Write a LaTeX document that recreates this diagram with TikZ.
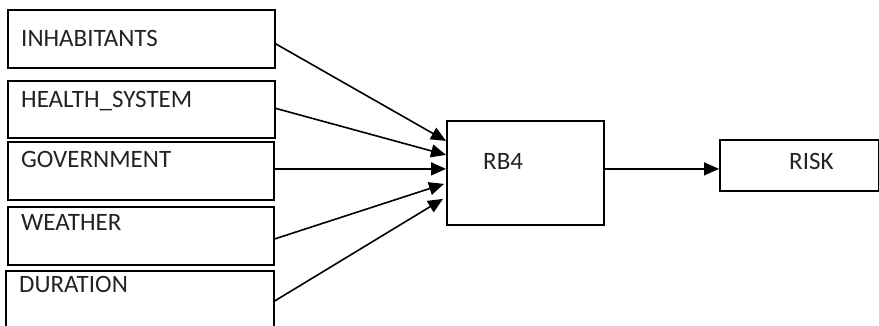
\documentclass[tikz,border=0pt]{standalone}
\usepackage{fontspec}
\setmainfont{Carlito}
\usetikzlibrary{arrows.meta}
\definecolor{txt}{RGB}{35,35,35}
\begin{document}
\begin{tikzpicture}[x=1pt,y=-1pt,
  box/.style={draw=black,line width=1.8pt,rectangle,inner sep=0pt,anchor=north west},
  lbl/.style={anchor=base west,inner sep=0pt,text=txt,font=\fontsize{25}{29}\selectfont},
  arr/.style={line width=1.6pt,-{Triangle[length=15pt,width=13pt]}}]
\useasboundingbox (0,0) rectangle (879,326);
\begin{scope}
\clip (0,0) rectangle (879,326);
\node[box,minimum width=267pt,minimum height=58pt] (inh) at (7,9) {};
\node[box,minimum width=267pt,minimum height=57pt] (hs) at (7,80) {};
\node[box,minimum width=266pt,minimum height=58pt] (gov) at (7,141) {};
\node[box,minimum width=266pt,minimum height=58pt] (wea) at (7,206) {};
\node[box,minimum width=268pt,minimum height=60pt] (dur) at (5,270) {};
\node[box,minimum width=157pt,minimum height=104pt] (rb4) at (446,120) {};
\node[box,minimum width=159pt,minimum height=51pt] (risk) at (719,139) {};
\end{scope}
\node[lbl] (tinh) at (21,47) {INHABITANTS};
\node[lbl] (ths) at (21,108) {HEALTH\_SYSTEM};
\node[lbl] (tgov) at (21,168) {GOVERNMENT};
\node[lbl] (twea) at (21,231) {WEATHER};
\node[lbl] (tdur) at (19,292) {DURATION};
\node[lbl] (trb4) at (483,170) {RB4};
\node[lbl] (trisk) at (789,170) {RISK};
\draw[arr] ([yshift=-5pt]inh.east) -- ([yshift=32pt]rb4.west);
\draw[arr] ([yshift=1pt]hs.east) -- ([yshift=18pt]rb4.west);
\draw[arr] ([yshift=2pt]gov.east) -- ([yshift=4pt]rb4.west);
\draw[arr] ([yshift=-3pt]wea.east) -- ([xshift=-2pt,yshift=-11pt]rb4.west);
\draw[arr] ([yshift=0pt]dur.east) -- ([xshift=-3pt,yshift=-26pt]rb4.west);
\draw[arr] ([yshift=4pt]rb4.east) -- ([yshift=-3.5pt]risk.west);
\end{tikzpicture}
\end{document}
